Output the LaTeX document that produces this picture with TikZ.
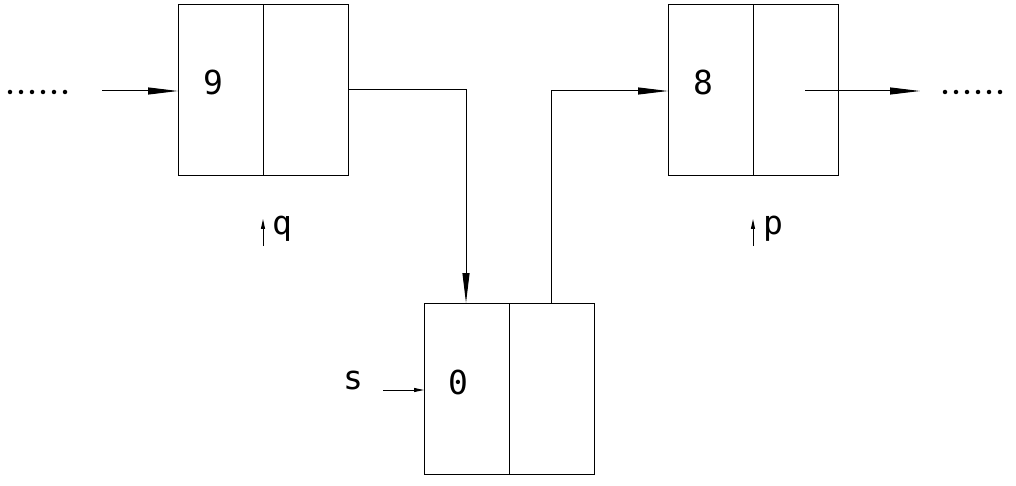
\documentclass[tikz,border=0pt]{standalone}
\usepackage{fontspec}
\setmainfont{DejaVu Sans Mono}
\usetikzlibrary{arrows.meta}
\tikzset{
  cell/.style={draw, line width=1pt, minimum width=85pt, minimum height=171pt, inner sep=0pt, outer sep=0pt},
  link/.style={line width=1pt, -{Triangle[length=30pt,width=7pt]}},
  ptr/.style={line width=1pt, -{Triangle[length=10pt,width=4pt]}},
  lbl/.style={font=\fontsize{33}{36}\selectfont, inner sep=0pt},
  dots/.style={line width=4.5pt, dash pattern=on 0pt off 11pt, line cap=round}
}
\begin{document}
\begin{tikzpicture}[x=1pt,y=-1pt]
\useasboundingbox (0,0) rectangle (1016,486);
% box q (9)
\node[cell, anchor=north west] (qa) at (178,5) {};
\node[cell, anchor=north west] (qb) at (263,5) {};
% box p (8)
\node[cell, anchor=north west] (pa) at (668,5) {};
\node[cell, anchor=north west] (pb) at (753,5) {};
% box s (0)
\node[cell, anchor=north west] (sa) at (424,303) {};
\node[cell, anchor=north west] (sb) at (509,303) {};
% values
\node[lbl] (v9) at (213,82) {9};
\node[lbl] (v8) at (703,82) {8};
\node[lbl] (v0) at (458,382) {0};
% labels
\node[lbl, anchor=west] (lq) at (272,229) {q};
\node[lbl, anchor=west] (lp) at (763,229) {p};
\node[lbl] (ls) at (353,380) {s};
% dots
\coordinate (dl1) at (10,92);
\coordinate (dl2) at (72,92);
\draw[dots] (dl1) -- (dl2);
\coordinate (dr1) at (945,92);
\coordinate (dr2) at (1010,92);
\draw[dots] (dr1) -- (dr2);
% incoming to q
\coordinate (inq) at (102,91);
\draw[link] (inq) -- (qa.west |- inq);
% q -> s
\coordinate (qout) at (348,90);
\coordinate (qbend) at (466,90);
\draw[link] (qout) -- (qbend) -- (qbend |- sa.north);
% s -> p
\coordinate (sout) at (551,303);
\coordinate (sbend) at (551,91);
\draw[link] (sout) -- (sbend) -- (pa.west |- sbend);
% p -> out
\coordinate (pout) at (805,91);
\coordinate (pend) at (920,91);
\draw[link] (pout) -- (pend);
% q and p pointers
\coordinate (qp1) at (263,246);
\coordinate (qp2) at (263,219);
\draw[ptr] (qp1) -- (qp2);
\coordinate (pp1) at (753,246);
\coordinate (pp2) at (753,219);
\draw[ptr] (pp1) -- (pp2);
% s pointer
\coordinate (sp1) at (383,390);
\draw[ptr] (sp1) -- (sa.west |- sp1);
\end{tikzpicture}
\end{document}
